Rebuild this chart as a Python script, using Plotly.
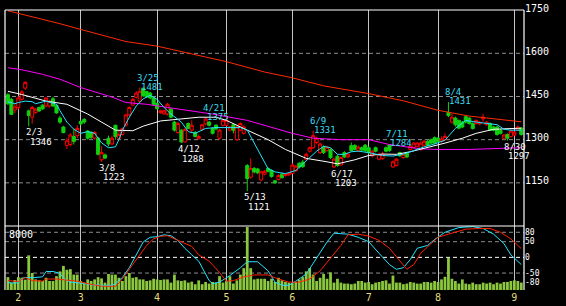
import plotly.graph_objects as go

# ---------------- data ----------------
open_ = [1456,1440,1403,1412,1440,1479,1400,1378,1395,1412,1420,1417,1417,1442,1419,1375,1344,1280,1283,1311,
         1314,1363,1370,1330,1325,1305,1305,1230,1247,1305,1285,1350,1305,1318,1350,1386,1420,1447,1434,1479,
         1467,1462,1445,1426,1394,1390,1389,1406,1361,1325,1333,1292,1356,1333,1325,1303,1336,1355,1361,1339,
         1350,1305,1350,1350,1333,1352,1300,1333,1322,1210,1170,1200,1198,1160,1180,1200,1193,1157,1162,1180,
         1175,1178,1183,1192,1218,1222,1232,1260,1272,1290,1255,1274,1262,1265,1205,1242,1212,1255,1240,1279,
         1280,1262,1272,1281,1272,1244,1272,1232,1234,1272,1282,1205,1210,1255,1238,1255,1266,1272,1277,1266,
         1281,1294,1300,1307,1305,1294,1300,1395,1361,1375,1367,1361,1380,1375,1356,1356,1355,1372,1352,1356,
         1344,1344,1333,1305,1318,1311,1316,1333,1340]
high = [1462,1445,1423,1452,1472,1503,1405,1417,1410,1415,1423,1449,1438,1449,1422,1383,1348,1305,1322,1339,
        1350,1367,1375,1333,1330,1330,1310,1277,1252,1314,1314,1352,1333,1342,1390,1416,1445,1468,1481,1480,
        1470,1466,1450,1430,1404,1404,1428,1410,1365,1362,1336,1340,1360,1367,1330,1318,1355,1375,1365,1344,
        1354,1338,1371,1389,1348,1356,1350,1360,1350,1215,1235,1205,1202,1192,1195,1204,1197,1160,1180,1185,
        1183,1186,1218,1212,1222,1230,1255,1276,1331,1310,1290,1280,1278,1270,1238,1247,1242,1260,1255,1290,
        1284,1280,1276,1285,1276,1264,1276,1255,1258,1276,1284,1228,1236,1258,1253,1258,1281,1292,1292,1294,
        1300,1298,1304,1311,1309,1311,1322,1431,1392,1380,1370,1365,1384,1378,1360,1370,1365,1390,1365,1360,
        1348,1348,1337,1320,1322,1335,1330,1349,1344]
low = [1420,1385,1392,1405,1436,1473,1346,1356,1390,1396,1403,1412,1412,1414,1390,1355,1322,1268,1277,1283,
       1305,1350,1355,1300,1303,1300,1245,1223,1232,1277,1281,1300,1300,1314,1345,1382,1416,1443,1430,1448,
       1445,1440,1418,1404,1390,1386,1384,1374,1328,1320,1288,1290,1336,1322,1308,1300,1330,1350,1346,1318,
       1333,1300,1346,1346,1329,1322,1296,1329,1318,1121,1165,1183,1180,1155,1176,1186,1168,1146,1158,1165,
       1172,1174,1180,1188,1200,1202,1228,1255,1268,1285,1250,1250,1258,1233,1203,1206,1208,1236,1236,1258,
       1262,1258,1260,1258,1250,1238,1256,1228,1230,1256,1258,1202,1207,1240,1234,1236,1262,1268,1273,1262,
       1277,1277,1284,1284,1290,1290,1296,1378,1356,1345,1336,1340,1356,1352,1335,1352,1350,1362,1348,1330,
       1329,1314,1318,1300,1297,1307,1312,1330,1314]
close = [1425,1388,1414,1445,1466,1499,1384,1412,1406,1400,1407,1445,1434,1417,1393,1361,1325,1296,1316,1294,
         1339,1355,1361,1305,1308,1325,1249,1255,1236,1285,1305,1311,1318,1338,1386,1412,1440,1462,1468,1453,
         1449,1445,1423,1408,1400,1400,1423,1378,1333,1356,1292,1335,1339,1350,1311,1311,1352,1372,1350,1322,
         1337,1333,1367,1367,1344,1333,1344,1356,1344,1165,1200,1188,1185,1188,1190,1190,1172,1150,1175,1168,
         1180,1182,1212,1208,1205,1206,1249,1272,1314,1305,1285,1255,1274,1238,1232,1210,1238,1240,1250,1262,
         1266,1274,1264,1262,1255,1260,1260,1249,1250,1260,1262,1223,1232,1244,1249,1240,1277,1288,1288,1288,
         1294,1281,1288,1288,1294,1302,1311,1384,1378,1352,1340,1344,1361,1356,1339,1367,1360,1378,1361,1333,
         1333,1318,1322,1316,1305,1330,1326,1344,1318]
volume = [1616,929,1252,1616,1535,1300,4363,2141,1333,1212,1131,1535,1131,1131,1737,2343,3030,2545,2626,1939,
          1939,1131,929,1333,1131,1333,1616,1454,929,2020,1939,1939,1535,1131,1737,2141,1535,1616,1333,1333,
          1131,1212,1414,1333,1252,1333,1333,929,1939,1212,1131,1212,929,1050,727,1212,727,1010,808,1010,
          929,1737,929,1131,1737,808,1212,1939,2747,7918,2747,1333,1414,1414,1414,1131,1414,1010,1535,1212,
          1010,929,848,1010,1333,1616,2343,2747,1939,1131,1535,2020,1414,2222,929,1414,929,808,808,727,
          808,1131,1131,929,1010,727,929,1010,1131,1212,808,1818,929,929,727,808,1010,929,808,808,
          1010,1010,929,1131,1010,1333,1656,4040,1414,1131,808,1333,808,727,929,727,727,929,808,929,
          727,929,808,1010,1010,1131,1212,1131,929]

# moving averages (sampled along the day index)
ma_short_idx = [0,2,3,5,7,8,11,14,15,17,19,21,23,25,27,29,31,32,33,35,37,39,41,43,45,47,50,52,54,57,60,63,67,69,
                75,77,80,83,86,89,91,93,95,97,99,101,104,108,111,114,117,120,123,126,129,132,135,138,141,143,145,148]
ma_short = [1432,1425,1429,1434,1432,1425,1434,1423,1401,1361,1336,1322,1328,1322,1289,1272,1275,1300,1333,1378,1417,
            1442,1454,1440,1412,1389,1361,1328,1322,1339,1342,1341,1342,1333,1199,1188,1182,1193,1227,1260,1277,1272,
            1249,1249,1258,1260,1255,1245,1243,1250,1262,1275,1285,1298,1339,1367,1361,1356,1352,1336,1333,1333]
ma_mid_idx = [0,4,11,17,23,27,31,36,39,44,50,55,60,63,69,75,80,86,92,95,100,104,108,112,116,121,126,131,135,140,145,148]
ma_mid = [1468,1457,1434,1423,1389,1361,1333,1331,1347,1365,1372,1378,1378,1367,1333,1300,1266,1235,1223,1216,1230,
          1245,1250,1249,1258,1272,1288,1305,1322,1336,1339,1340]
ma_long_idx = [0,4,10,15,21,25,30,34,40,46,50,53,59,69,78,82,88,96,104,110,119,124,133,143,148]
ma_long = [1550,1543,1527,1510,1481,1466,1448,1429,1423,1412,1405,1398,1389,1367,1336,1322,1305,1300,1300,1283,1268,
           1266,1266,1270,1272]
ma_xlong_idx = [0,8,15,21,27,34,43,50,63,74,82,91,100,104,114,124,133,143,148]
ma_xlong = [1748,1725,1703,1683,1664,1641,1625,1606,1571,1535,1515,1487,1470,1460,1435,1402,1382,1368,1362]

# oscillator lines (lower panel, -100..100)
osc_fast_idx = [0,1,3,4,5,7,10,11,13,15,16,18,21,24,27,30,31,33,35,37,39,41,43,45,47,49,51,53,55,58,59,61,64,67,69,
                72,75,77,79,81,83,86,89,92,94,98,101,104,107,110,112,114,116,118,121,123,126,130,134,137,140,143,145,148]
osc_fast = [-79,-82,-81,-67,-64,-65,-62,-45,-45,-51,-66,-79,-82,-87,-89,-89,-84,-64,-33,8,49,64,66,72,69,54,29,8,-12,
            -74,-84,-79,-58,-33,-14,-14,-43,-79,-89,-89,-76,-53,-2,49,77,74,64,50,13,-23,-38,-33,-7,29,38,57,80,95,98,
            92,74,44,8,-23]
osc_slow_idx = [0,3,5,7,10,11,14,17,20,23,27,31,32,34,36,38,40,42,44,46,48,50,53,55,58,61,63,65,68,71,75,78,81,84,87,
                90,93,96,98,101,104,107,110,113,115,117,119,122,124,127,132,136,139,142,145,147,148]
osc_slow = [-74,-77,-64,-74,-76,-69,-69,-72,-76,-84,-92,-92,-82,-53,-23,8,38,59,67,69,59,48,35,8,-12,-48,-76,-74,-62,
            -56,-56,-69,-79,-79,-69,-43,-2,38,72,74,68,54,29,-12,-38,-23,13,44,64,74,90,92,92,80,59,38,28]

# turning-point labels
lab_date = ["2/3", "3/8", "3/25", "4/12", "4/21", "5/13", "6/9", "6/17", "7/11", "8/4", "8/30"]
lab_idx = [6, 27, 38, 50, 57, 69, 88, 94, 110, 127, 144]
lab_val = [1346, 1223, 1481, 1288, 1375, 1121, 1331, 1203, 1284, 1431, 1297]
lab_kind = ["L", "L", "H", "L", "H", "L", "H", "L", "H", "H", "L"]

month_idx = [3, 21, 43, 63, 82, 104, 124, 146]
month_lbl = ["2", "3", "4", "5", "6", "7", "8", "9"]
price_ticks = [1150, 1300, 1450, 1600, 1750]
price_grid = [1150, 1300, 1450, 1600]
osc_ticks = [80, 50, 0, -50, -80]
osc_tick_txt = ["80", "50", "0", "-50", "-80"]
osc_grid = [80, 50, -50]
osc_mid = [0]
vol_label = "8000"

# ---------------- styling ----------------
FONT = "DejaVu Sans Mono"
CYAN = "#22e4ff"
CYAN_TXT = "#3cdcf4"
DIV = 0.2286
idx = list(range(len(close)))

fig = go.Figure()
fig.add_trace(go.Bar(x=idx, y=volume, yaxis="y2", width=0.8,
                     marker=dict(color="#8cc83e", line=dict(width=0)), hoverinfo="skip"))
fig.add_trace(go.Scatter(x=osc_fast_idx, y=osc_fast, yaxis="y3", mode="lines",
                         line=dict(color=CYAN, width=1)))
fig.add_trace(go.Scatter(x=osc_slow_idx, y=osc_slow, yaxis="y3", mode="lines",
                         line=dict(color="#ff2000", width=1)))
fig.add_trace(go.Candlestick(x=idx, open=open_, high=high, low=low, close=close, yaxis="y",
                             whiskerwidth=0,
                             increasing=dict(line=dict(color="#ff0000", width=1), fillcolor="#000000"),
                             decreasing=dict(line=dict(color="#10d010", width=1), fillcolor="#10d010")))
for xs, ys, col in [(ma_xlong_idx, ma_xlong, "#ff2a00"), (ma_long_idx, ma_long, "#ff00ff"),
                    (ma_mid_idx, ma_mid, "#ffffff"), (ma_short_idx, ma_short, CYAN)]:
    fig.add_trace(go.Scatter(x=xs, y=ys, yaxis="y", mode="lines", line=dict(color=col, width=1)))

shapes = []
for v in price_grid:
    shapes.append(dict(type="line", xref="paper", x0=0, x1=1, yref="y", y0=v, y1=v, layer="below",
                       line=dict(color="#8c8c8c", width=1, dash="4px,3px")))
for v in osc_grid:
    shapes.append(dict(type="line", xref="paper", x0=0, x1=1, yref="y3", y0=v, y1=v, layer="below",
                       line=dict(color="#8c8c8c", width=1, dash="4px,3px")))
for v in osc_mid:
    shapes.append(dict(type="line", xref="paper", x0=0, x1=1, yref="y3", y0=v, y1=v, layer="below",
                       line=dict(color="#ffffff", width=1, dash="4px,3px")))
for (x0, y0, x1, y1) in [(0, 1, 1, 1), (0, DIV, 1, DIV), (0, 0, 0, 1), (1, 0, 1, 1)]:
    shapes.append(dict(type="line", xref="paper", yref="paper", x0=x0, y0=y0, x1=x1, y1=y1,
                       line=dict(color="#ffffff", width=1.2)))

ann = []
for d, i, v, k in zip(lab_date, lab_idx, lab_val, lab_kind):
    col = CYAN_TXT if k == "H" else "#ffffff"
    f = dict(family=FONT, size=9, color=col)
    if k == "H":
        ann.append(dict(x=i, y=v, xref="x", yref="y", text=d, showarrow=False, xanchor="left",
                        yanchor="bottom", xshift=-4, yshift=4, font=f, borderpad=0))
        ann.append(dict(x=i, y=v, xref="x", yref="y", text=str(v), showarrow=False, xanchor="left",
                        yanchor="bottom", xshift=0, yshift=-5, font=f, borderpad=0))
    else:
        ann.append(dict(x=i, y=v, xref="x", yref="y", text=d, showarrow=False, xanchor="left",
                        yanchor="top", xshift=-4, yshift=0, font=f, borderpad=0))
        ann.append(dict(x=i, y=v, xref="x", yref="y", text=str(v), showarrow=False, xanchor="left",
                        yanchor="top", xshift=0, yshift=-9.5, font=f, borderpad=0))
ann.append(dict(x=0, y=DIV, xref="paper", yref="paper", text=vol_label, showarrow=False, xanchor="left",
                yanchor="top", xshift=2, yshift=-1, font=dict(family=FONT, size=10, color="#ffffff")))

tickfont = dict(family=FONT, size=10, color="#ffffff")
fig.update_layout(
    width=566, height=306, margin=dict(l=5, r=42, t=3, b=13, pad=0),
    paper_bgcolor="#000000", plot_bgcolor="#000000", showlegend=False,
    boxgap=0.12, boxgroupgap=0,
    xaxis=dict(domain=[0, 1], anchor="y2", range=[-0.84, 148.78], tickmode="array",
               tickvals=month_idx, ticktext=month_lbl, showgrid=True, gridcolor="#c4c4c4", gridwidth=1,
               zeroline=False, showline=False, ticks="", rangeslider=dict(visible=False),
               tickfont=dict(family=FONT, size=10, color="#e6dc7c")),
    yaxis=dict(domain=[DIV, 1], anchor="x", range=[1000, 1750.6], side="right", tickmode="array",
               tickvals=price_ticks, showgrid=False, zeroline=False, ticks="", tickfont=tickfont,
               ticklabeloverflow="allow", ticklabelshift=-2),
    yaxis2=dict(domain=[0, DIV], anchor="x", range=[0, 8050], showgrid=False, zeroline=False,
                showticklabels=False, ticks=""),
    yaxis3=dict(overlaying="y2", anchor="x", range=[-104, 100], side="right", tickmode="array",
                tickvals=osc_ticks, ticktext=osc_tick_txt, showgrid=False, zeroline=False, ticks="",
                tickfont=dict(family=FONT, size=8, color="#ffffff"), ticklabeloverflow="allow"),
    shapes=shapes, annotations=ann,
)
fig.write_html("out.html")
